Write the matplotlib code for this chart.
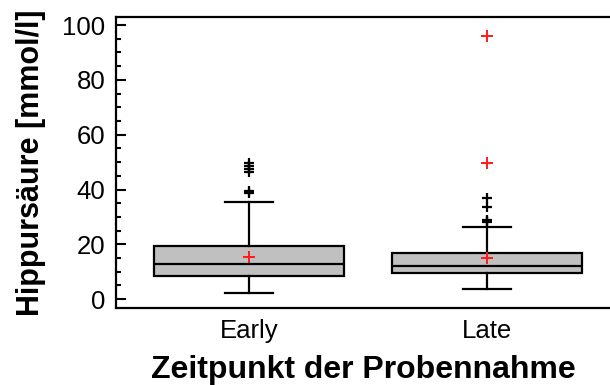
import matplotlib
matplotlib.use("Agg")
import matplotlib.pyplot as plt
from matplotlib.ticker import MultipleLocator

plt.rcParams['font.family'] = ['Liberation Sans', 'DejaVu Sans']

# Hippursäure je Zeitpunkt: Kennwerte der Boxplots
groups = ['Early', 'Late']
q1 = [8.5, 9.7]
median = [12.8, 12.1]
q3 = [19.4, 17.0]
whisker_low = [2.4, 3.6]
whisker_high = [35.6, 26.5]
means = [15.5, 15.2]
outliers = [[38.6, 39.6, 46.3, 47.4, 48.6, 49.8],
            [28.0, 28.5, 29.0, 33.5, 37.0]]
far_outliers = [[], [49.8, 96.0]]

stats = []
for i, name in enumerate(groups):
    stats.append(dict(label=name, q1=q1[i], med=median[i], q3=q3[i],
                      whislo=whisker_low[i], whishi=whisker_high[i],
                      mean=means[i], fliers=outliers[i]))

fig = plt.figure(figsize=(6.1, 3.85), dpi=100)
ax = fig.add_axes([0.190, 0.2008, 0.81, 0.7542])

lw = 1.6
ax.bxp(stats, positions=[1, 2], widths=0.8, patch_artist=True,
       showmeans=True, capwidths=0.2,
       boxprops=dict(facecolor='#c0c0c0', edgecolor='black', linewidth=lw),
       medianprops=dict(color='black', linewidth=lw),
       whiskerprops=dict(color='black', linewidth=lw),
       capprops=dict(color='black', linewidth=lw),
       flierprops=dict(marker='+', markeredgecolor='black', markersize=7,
                       markeredgewidth=1.6),
       meanprops=dict(marker='+', markeredgecolor='#ff1a1a', markersize=8,
                      markeredgewidth=1.4))

for i, vals in enumerate(far_outliers):
    if vals:
        ax.plot([i + 1] * len(vals), vals, linestyle='none', marker='+',
                markeredgecolor='#ff1a1a', markersize=8, markeredgewidth=1.4)

ax.set_xlim(0.441, 2.517)
ax.set_ylim(-3.1, 102.8)
ax.yaxis.set_major_locator(MultipleLocator(20))
ax.yaxis.set_minor_locator(MultipleLocator(5))
ax.tick_params(axis='y', which='major', direction='in', length=7, width=1.5,
               labelsize=18.5, pad=7.5)
ax.tick_params(axis='y', which='minor', direction='in', length=3.5, width=1.5)
ax.tick_params(axis='x', length=0, labelsize=18.5, pad=8)

ax.spines['right'].set_visible(False)
for side in ['left', 'top', 'bottom']:
    ax.spines[side].set_linewidth(lw)

ax.set_ylabel('Hippursäure [mmol/l]', fontsize=22, fontweight='bold', labelpad=12)
ax.set_xlabel('Zeitpunkt der Probennahme', fontsize=23, fontweight='bold', labelpad=9)

fig.savefig('out.png', dpi=100)
